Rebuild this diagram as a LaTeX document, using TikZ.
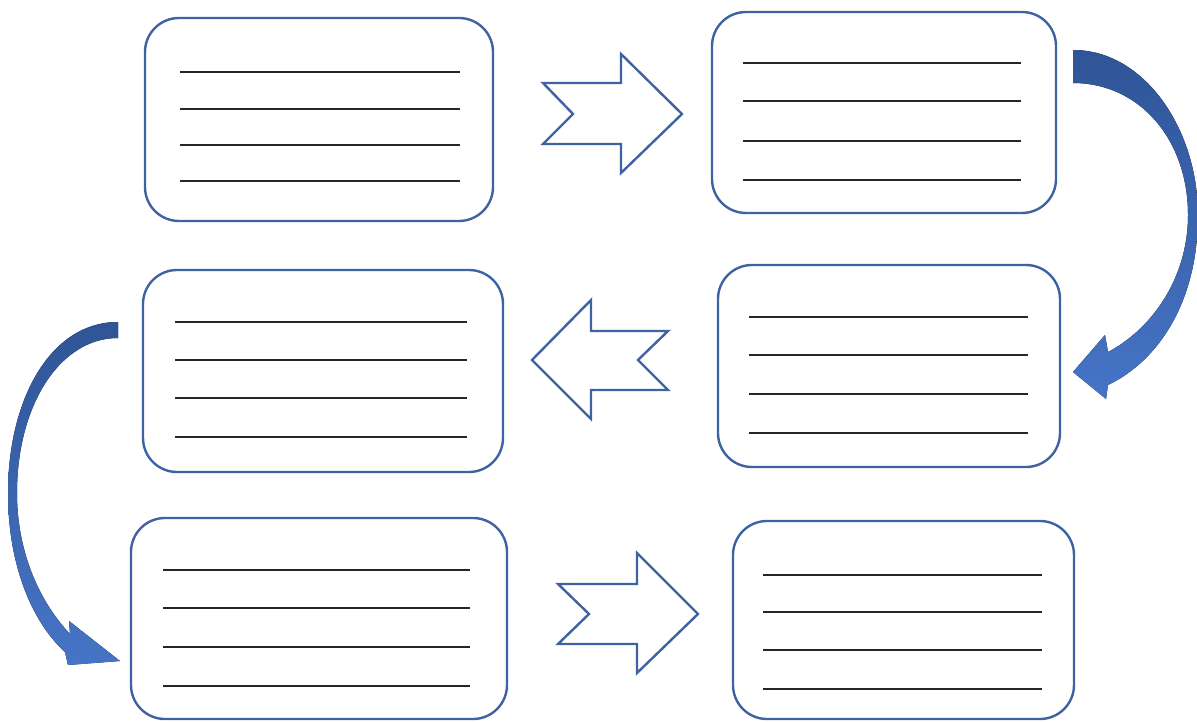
\documentclass[tikz,border=0pt]{standalone}
\begin{document}
\begin{tikzpicture}[x=1pt,y=-1pt,
  boxstyle/.style={draw=boxblue,line width=2.4pt,rounded corners=34pt},
  txtline/.style={draw=black!85,line width=2.4pt},
  chev/.style={draw=boxblue,line width=2.4pt,fill=white,line join=miter},
  bendarrow/.style={top color=arrdark,bottom color=arrlight,draw=none}]
\definecolor{boxblue}{RGB}{62,98,162}
\definecolor{arrdark}{RGB}{47,85,151}
\definecolor{arrlight}{RGB}{70,116,198}
\useasboundingbox (0,0) rectangle (1197,722);
% boxes
\draw[boxstyle] (145,18) rectangle (493,221) coordinate (b1);
\draw[boxstyle] (712,12) rectangle (1056,213) coordinate (b2);
\draw[boxstyle] (143,270) rectangle (503,472) coordinate (b3);
\draw[boxstyle] (718,265) rectangle (1060,467) coordinate (b4);
\draw[boxstyle] (131,518) rectangle (507,719) coordinate (b5);
\draw[boxstyle] (733,521) rectangle (1074,719) coordinate (b6);
% text lines
\foreach \y in {72,109,145,181} \draw[txtline] (180,\y) -- (460,\y);
\foreach \y in {63,101,141,180} \draw[txtline] (743,\y) -- (1021,\y);
\foreach \y in {322,360,398,437} \draw[txtline] (175,\y) -- (467,\y);
\foreach \y in {317,355,394,433} \draw[txtline] (749,\y) -- (1028,\y);
\foreach \y in {570,608,647,686} \draw[txtline] (163,\y) -- (470,\y);
\foreach \y in {575,612,650,689} \draw[txtline] (763,\y) -- (1042,\y);
% chevron arrows
\draw[chev] (543,83) -- (621,83) -- (621,54) -- (682,114) -- (621,173) -- (621,144) -- (543,144) -- (573,114) -- cycle;
\draw[chev] (532,360) -- (591,300) -- (591,331) -- (668,331) -- (638,360) -- (668,390) -- (591,390) -- (591,419) -- cycle;
\draw[chev] (558,584) -- (637,584) -- (637,553) -- (698,614) -- (637,673) -- (637,644) -- (558,644) -- (589,614) -- cycle;
% curved arrows
\fill[bendarrow] (1073,50) .. controls (1145,50) and (1198,130) .. (1198,215)
  .. controls (1198,300) and (1160,360) .. (1108,385)
  -- (1106,399) -- (1073,372) -- (1105,335) -- (1108,352)
  .. controls (1150,330) and (1188,280) .. (1188,215)
  .. controls (1188,140) and (1140,83) .. (1073,83) -- cycle;
\fill[bendarrow] (118,322) .. controls (50,322) and (8,400) .. (8,493)
  .. controls (8,570) and (35,625) .. (65,652)
  -- (68,665) -- (120,661) -- (69,621) -- (70,634)
  .. controls (38,600) and (17,550) .. (17,493)
  .. controls (17,405) and (60,338) .. (118,338) -- cycle;
\end{tikzpicture}
\end{document}
